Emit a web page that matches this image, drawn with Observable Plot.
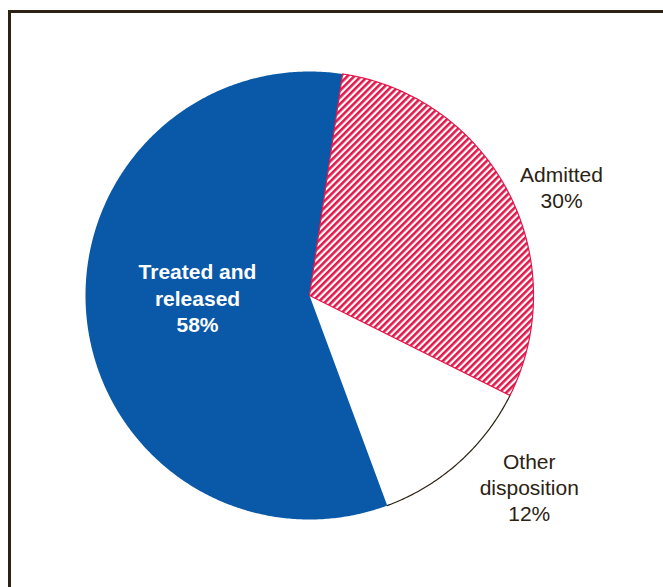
<!DOCTYPE html>
<html>
<head>
<meta charset="utf-8">
<script src="https://cdn.jsdelivr.net/npm/d3@7"></script>
<script src="https://cdn.jsdelivr.net/npm/@observablehq/plot@0.6"></script>
<style>
  html, body { margin: 0; padding: 0; background: #fff; overflow: hidden; }
  #wrap { position: relative; width: 663px; height: 587px; }
  #frame { position: absolute; left: 8px; top: 10px; width: 700px; height: 640px;
           border-left: 3px solid #2b2213; border-top: 3px solid #2b2213; pointer-events: none; }
  #chart { position: absolute; left: 0; top: 0; }
</style>
</head>
<body>
<div id="wrap"><div id="chart"></div><div id="frame"></div></div>
<script>
// ---- data ----
const categories = ["Admitted", "Other disposition", "Treated and released"];
const values = [30, 12, 58];
const labels = ["Admitted\n30%", "Other\ndisposition\n12%", "Treated and\nreleased\n58%"];

// ---- layout / style ----
const W = 663, H = 587;
const R = 224, CX = 309, CY = 295;
const startDeg = 8.5;
const labelAngleDeg = {"Admitted": 66.6, "Other disposition": 131, "Treated and released": 269};
const labelRadius = {"Admitted": 1.226, "Other disposition": 1.30, "Treated and released": 0.5};
const fills = {"Admitted": "url(#hatch)", "Other disposition": "#ffffff", "Treated and released": "#0a58a8"};
const RED = "#e3184a", DARK = "#2b2213";

const rows = categories.map((c, i) => ({category: c, value: values[i], label: labels[i]}));
const a0 = startDeg * Math.PI / 180;
const pie = d3.pie().sort(null).value(d => d.value).startAngle(a0).endAngle(a0 + 2 * Math.PI);
const arcs = pie(rows);

// polygon points for each slice (center + arc samples), in radius units
const pts = [];
const arcPts = [];
for (const a of arcs) {
  const c = a.data.category;
  pts.push({category: c, x: 0, y: 0});
  const n = Math.max(2, Math.ceil((a.endAngle - a.startAngle) / (Math.PI / 360)));
  for (let k = 0; k <= n; k++) {
    const t = a.startAngle + (a.endAngle - a.startAngle) * k / n;
    const p = {category: c, x: Math.sin(t), y: Math.cos(t)};
    pts.push(p);
    arcPts.push(p);
  }
}
const labelRows = rows.map(r => {
  const t = labelAngleDeg[r.category] * Math.PI / 180;
  const rr = labelRadius[r.category];
  return {...r, x: rr * Math.sin(t), y: rr * Math.cos(t)};
});

const slice = (c, extra) => Plot.line(pts.filter(d => d.category === c), {
  x: "x", y: "y", curve: "linear-closed", fill: fills[c], ...extra
});

const textOpts = {x: "x", y: "y", text: "label", fontSize: 21, lineHeight: 1.26,
                  textAnchor: "middle", lineAnchor: "middle"};

const plot = Plot.plot({
  width: W, height: H,
  marginTop: 0, marginRight: 0, marginBottom: 0, marginLeft: 0,
  x: {domain: [-CX / R, (W - CX) / R], axis: null},
  y: {domain: [-(H - CY) / R, CY / R], axis: null},
  style: {background: "transparent", fontFamily: "'Liberation Sans', Arial, Helvetica, sans-serif"},
  marks: [
    slice("Other disposition", {stroke: "none"}),
    Plot.line(arcPts.filter(d => d.category === "Other disposition"),
      {x: "x", y: "y", stroke: DARK, strokeWidth: 1.2}),
    slice("Treated and released", {stroke: "none"}),
    slice("Admitted", {stroke: RED, strokeWidth: 1.2}),
    Plot.text(labelRows.filter(d => d.category !== "Treated and released"),
      {...textOpts, fill: DARK, fontWeight: "normal"}),
    Plot.text(labelRows.filter(d => d.category === "Treated and released"),
      {...textOpts, fill: "#ffffff", fontWeight: "bold"})
  ]
});

// hatch pattern definition
const defs = d3.create("svg:defs");
const pat = defs.append("pattern").attr("id", "hatch").attr("patternUnits", "userSpaceOnUse")
  .attr("width", 4.8).attr("height", 4.8).attr("patternTransform", "rotate(45)");
pat.append("rect").attr("width", 4.8).attr("height", 4.8).attr("fill", "#ffffff");
pat.append("rect").attr("width", 2.6).attr("height", 4.8).attr("fill", RED);
plot.insertBefore(defs.node(), plot.firstChild);

document.getElementById("chart").appendChild(plot);
</script>
</body>
</html>
